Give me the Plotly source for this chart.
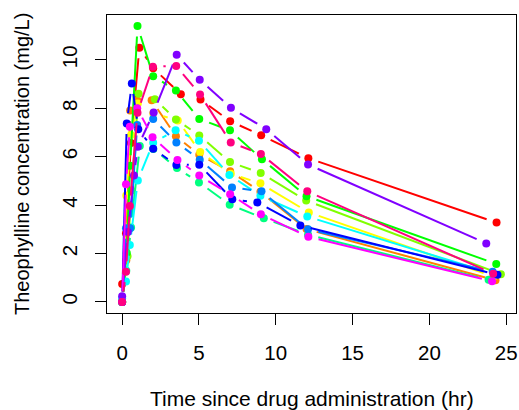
import numpy as np
import plotly.graph_objects as go

subjects = list(range(1, 13))
time_1 = [0, 0.25, 0.57, 1.12, 2.02, 3.82, 5.10, 7.03, 9.05, 12.12, 24.37]
conc_1 = [0.74, 2.84, 6.57, 10.50, 9.66, 8.58, 8.36, 7.47, 6.89, 5.94, 3.28]
time_2 = [0, 0.27, 0.52, 1.00, 1.92, 3.50, 5.02, 7.03, 9.00, 12.00, 24.30]
conc_2 = [0.00, 1.72, 7.91, 8.31, 8.33, 6.85, 6.08, 5.40, 4.55, 3.01, 0.90]
time_3 = [0, 0.27, 0.58, 1.02, 2.02, 3.62, 5.08, 7.07, 9.00, 12.15, 24.17]
conc_3 = [0.00, 4.40, 6.90, 8.20, 7.80, 7.50, 6.20, 5.30, 4.90, 3.70, 1.05]
time_4 = [0, 0.35, 0.60, 1.07, 2.13, 3.50, 5.02, 7.02, 9.02, 11.98, 24.65]
conc_4 = [0.00, 1.89, 4.60, 8.60, 8.38, 7.54, 6.88, 5.78, 5.33, 4.19, 1.15]
time_5 = [0, 0.30, 0.52, 1.00, 2.02, 3.50, 5.02, 7.02, 9.10, 12.00, 24.35]
conc_5 = [0.00, 2.02, 5.63, 11.40, 9.33, 8.74, 7.56, 7.09, 5.90, 4.37, 1.57]
time_6 = [0, 0.27, 0.58, 1.15, 2.03, 3.57, 5.00, 7.00, 9.22, 12.10, 23.85]
conc_6 = [0.00, 1.29, 3.08, 6.44, 6.32, 5.53, 4.94, 4.02, 3.46, 2.78, 0.92]
time_7 = [0, 0.25, 0.50, 1.02, 2.02, 3.48, 5.00, 6.98, 9.00, 12.05, 24.22]
conc_7 = [0.15, 0.85, 2.35, 5.02, 6.58, 7.09, 6.66, 5.25, 4.39, 3.53, 1.15]
time_8 = [0, 0.25, 0.52, 0.98, 2.02, 3.53, 5.05, 7.15, 9.07, 12.10, 24.12]
conc_8 = [0.00, 3.05, 3.05, 7.31, 7.56, 6.59, 5.88, 4.73, 4.57, 3.00, 1.25]
time_9 = [0, 0.30, 0.63, 1.05, 2.02, 3.53, 5.02, 7.17, 8.80, 11.60, 24.43]
conc_9 = [0.00, 7.37, 9.03, 7.14, 6.33, 5.66, 5.67, 4.24, 4.11, 3.16, 1.12]
time_10 = [0, 0.37, 0.77, 1.02, 2.05, 3.55, 5.05, 7.08, 9.38, 12.10, 23.70]
conc_10 = [0.24, 2.89, 5.22, 6.41, 7.83, 10.21, 9.18, 8.02, 7.14, 5.68, 2.42]
time_11 = [0, 0.25, 0.50, 0.98, 1.98, 3.60, 5.02, 7.03, 9.03, 12.12, 24.08]
conc_11 = [0.00, 4.86, 7.24, 8.00, 6.81, 5.87, 5.22, 4.45, 3.62, 2.69, 0.86]
time_12 = [0, 0.25, 0.50, 1.00, 2.00, 3.52, 5.07, 7.07, 9.03, 12.05, 24.15]
conc_12 = [0.00, 1.25, 3.96, 7.82, 9.72, 9.75, 8.57, 6.59, 6.11, 4.57, 1.17]

times = [time_1, time_2, time_3, time_4, time_5, time_6, time_7, time_8, time_9, time_10, time_11, time_12]
concs = [conc_1, conc_2, conc_3, conc_4, conc_5, conc_6, conc_7, conc_8, conc_9, conc_10, conc_11, conc_12]

colors = ["#FF0000", "#FF8000", "#FFFF00", "#80FF00", "#00FF00", "#00FF80",
          "#00FFFF", "#0080FF", "#0000FF", "#8000FF", "#FF00FF", "#FF0080"]

x_ticks = [0, 5, 10, 15, 20, 25]
y_ticks = [0, 2, 4, 6, 8, 10]

W, H = 519, 410
ML, MR, MT, MB = 107, 3, 15, 97
all_t = np.concatenate([np.array(t) for t in times])
all_c = np.concatenate([np.array(c) for c in concs])
xpad = 0.04 * (all_t.max() - all_t.min())
ypad = 0.04 * (all_c.max() - all_c.min())
xr = [all_t.min() - xpad, all_t.max() + xpad]
yr = [all_c.min() - ypad, all_c.max() + ypad]
sx = (W - ML - MR) / (xr[1] - xr[0])
sy = (H - MT - MB) / (yr[1] - yr[0])
GAP = 10.5  # px gap around each point (R type="b")

fig = go.Figure()
for s, t, c, col in zip(subjects, times, concs, colors):
    t = np.array(t, float)
    c = np.array(c, float)
    lx, ly = [], []
    for i in range(len(t) - 1):
        dxp = (t[i + 1] - t[i]) * sx
        dyp = (c[i + 1] - c[i]) * sy
        L = np.hypot(dxp, dyp)
        if L > 2 * GAP:
            f = GAP / L
            lx += [t[i] + f * (t[i + 1] - t[i]), t[i + 1] - f * (t[i + 1] - t[i]), None]
            ly += [c[i] + f * (c[i + 1] - c[i]), c[i + 1] - f * (c[i + 1] - c[i]), None]
    fig.add_trace(go.Scatter(x=lx, y=ly, mode="lines", line=dict(color=col, width=2),
                             showlegend=False, hoverinfo="skip"))
    fig.add_trace(go.Scatter(x=t, y=c, mode="markers",
                             marker=dict(color=col, size=8, line=dict(width=0)),
                             name=f"Subject {s}", showlegend=False))

font = "Liberation Sans, Arial, sans-serif"
fig.update_layout(
    width=W, height=H,
    margin=dict(l=ML, r=MR, t=MT, b=MB, autoexpand=False),
    plot_bgcolor="white", paper_bgcolor="white",
    font=dict(family=font, size=20.5, color="black"),
    xaxis=dict(range=xr, tickvals=x_ticks, ticktext=[str(v) for v in x_ticks],
               showgrid=False, zeroline=False, showline=True, linecolor="black",
               linewidth=1, mirror=True, ticks="outside", ticklen=11, tickwidth=1,
               tickcolor="black", ticklabelstandoff=10),
    yaxis=dict(range=yr, tickvals=y_ticks, ticktext=[str(v) for v in y_ticks],
               showgrid=False, zeroline=False, showline=True, linecolor="black",
               linewidth=1, mirror=True, ticks="outside", ticklen=11, tickwidth=1,
               tickcolor="black", tickangle=-90, ticklabelstandoff=10),
    annotations=[
        dict(text="Time since drug administration (hr)", xref="paper", yref="paper",
             x=0.5, y=0, yshift=-85, showarrow=False, xanchor="center", yanchor="middle",
             font=dict(size=21)),
        dict(text="Theophylline concentration (mg/L)", xref="paper", yref="paper",
             x=0, y=0.5, xshift=-85, showarrow=False, textangle=-90,
             xanchor="center", yanchor="middle", font=dict(size=20)),
    ],
)
fig.write_html("out.html", config={"displayModeBar": False},
               post_script="document.body.style.margin='0';document.body.style.overflow='hidden';")
